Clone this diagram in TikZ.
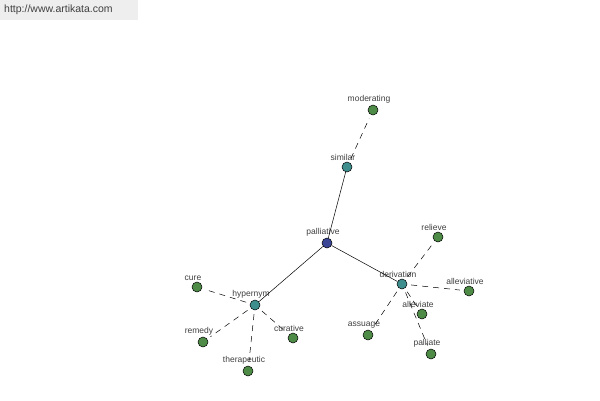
\documentclass[tikz,border=0pt]{standalone}
\usepackage{fontspec}
\setmainfont{Liberation Sans}
\usepackage{xcolor}
\definecolor{leafgreen}{HTML}{4E8B47}
\definecolor{relteal}{HTML}{3E8E8E}
\definecolor{rootblue}{HTML}{3A4596}
\definecolor{bannergray}{HTML}{EEEEEE}
\tikzstyle{word} = [circle, draw=black, line width=0.5pt, minimum size=10pt, inner sep=0pt, fill=leafgreen,
  label={[font=\fontsize{8.5}{10}\selectfont, text=black!75, xshift=-4pt, inner sep=1pt]above:#1}]
\tikzstyle{rel} = [word=#1, fill=relteal]
\tikzstyle{root} = [word=#1, fill=rootblue]
\tikzstyle{link} = [black, line width=0.5pt]
\tikzstyle{syn} = [black, line width=0.5pt, dash pattern=on 6pt off 5pt, shorten <=4pt, shorten >=4pt]

\begin{document}
\begin{tikzpicture}[x=1pt,y=-1pt]
                    \useasboundingbox (0,0) rectangle (600,400);
                    \fill[white] (0,0) rectangle (600,400);
                    \fill[bannergray] (0,0) rectangle (138,20);
                    \node[anchor=west, font=\fontsize{10.5}{12}\selectfont, text=black!75, inner sep=0pt] (site) at (4,10) {http://www.artikata.com};

                    \node[root=palliative] (palliative) at (327,243) {};
                    \node[rel=similar] (similar) at (347,167) {};
                    \node[rel=hypernym] (hypernym) at (255,305) {};
                    \node[rel=derivation] (derivation) at (402,284) {};

                    \node[word=moderating] (moderating) at (373,110) {};
                    \node[word=cure] (cure) at (197,287) {};
                    \node[word=remedy] (remedy) at (203,342) {};
                    \node[word=therapeutic] (therapeutic) at (248,371) {};
                    \node[word=curative] (curative) at (293,338) {};
                    \node[word=relieve] (relieve) at (438,237) {};
                    \node[word=alleviative] (alleviative) at (469,291) {};
                    \node[word=alleviate] (alleviate) at (422,314) {};
                    \node[word=assuage] (assuage) at (368,335) {};
                    \node[word=palliate] (palliate) at (431,354) {};

                    \draw[link] (palliative) -- (similar);
                    \draw[link] (palliative) -- (hypernym);
                    \draw[link] (palliative) -- (derivation);

                    \draw[syn] (similar) -- (moderating);
                    \foreach \w in {cure,remedy,therapeutic,curative}
                        \draw[syn] (hypernym) -- (\w);
                    \foreach \w in {relieve,alleviative,alleviate,assuage,palliate}
                        \draw[syn] (derivation) -- (\w);
                \end{tikzpicture}
\end{document}
